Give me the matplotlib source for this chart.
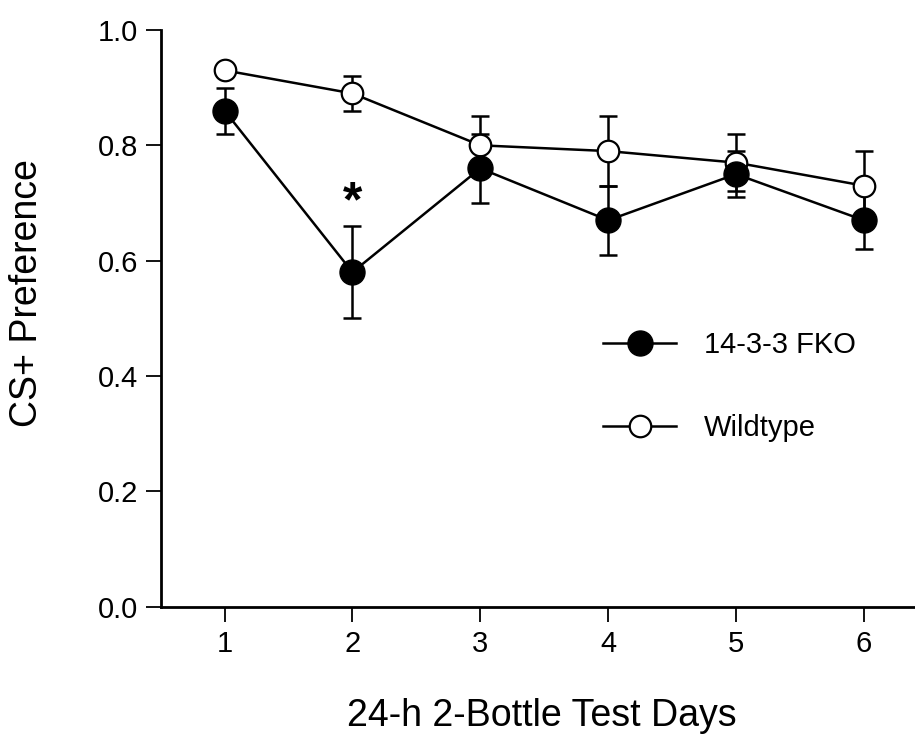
import matplotlib
matplotlib.use("Agg")
import matplotlib.pyplot as plt
from matplotlib.lines import Line2D

plt.rcParams['font.family'] = ['Liberation Sans', 'DejaVu Sans']

days = [1, 2, 3, 4, 5, 6]
fko_mean = [0.86, 0.58, 0.76, 0.67, 0.75, 0.67]
fko_err = [0.04, 0.08, 0.06, 0.06, 0.04, 0.05]
wt_mean = [0.93, 0.89, 0.80, 0.79, 0.77, 0.73]
wt_err = [0.01, 0.03, 0.05, 0.06, 0.05, 0.06]
yticks = [0.0, 0.2, 0.4, 0.6, 0.8, 1.0]
ytick_labels = ["0.0", "0.2", "0.4", "0.6", "0.8", "1.0"]
star_day, star_y = 2, 0.70

fig = plt.figure(figsize=(9.15, 7.4), dpi=100)
ax = fig.add_axes([0.1756, 0.1801, 0.8244, 0.7794])

lw = 1.8
ax.errorbar(days, wt_mean, yerr=wt_err, fmt='-', color='black', lw=lw,
            elinewidth=lw, capsize=6.5, capthick=lw, zorder=2)
ax.errorbar(days, fko_mean, yerr=fko_err, fmt='-', color='black', lw=lw,
            elinewidth=lw, capsize=6.5, capthick=lw, zorder=2)
ax.plot(days, wt_mean, 'o', ms=15.5, mfc='white', mec='black', mew=1.6, zorder=4)
ax.plot(days, fko_mean, 'o', ms=18, mfc='black', mec='black', zorder=5)

ax.text(star_day, star_y, '*', ha='center', va='center', fontsize=36, fontweight='bold')

ax.set_xlim(0.5, 6.4)
ax.set_ylim(0, 1.0)
ax.set_xticks(days)
ax.set_xticklabels([str(d) for d in days])
ax.set_yticks(yticks)
ax.set_yticklabels(ytick_labels)
ax.tick_params(axis='both', direction='out', length=11, width=1.3, labelsize=21)
ax.tick_params(axis='y', pad=5)
ax.tick_params(axis='x', pad=6)
for s in ['top', 'right']:
    ax.spines[s].set_visible(False)
for s in ['left', 'bottom']:
    ax.spines[s].set_linewidth(2)
ax.spines['left'].set_bounds(0, 1.0)

ax.set_xlabel('24-h 2-Bottle Test Days', fontsize=27)
ax.set_ylabel('CS+ Preference', fontsize=27)
ax.xaxis.set_label_coords(0.505, -0.158)
ax.yaxis.set_label_coords(-0.153, 0.544)

h1 = Line2D([], [], color='black', lw=lw, marker='o', ms=18, mfc='black', mec='black')
h2 = Line2D([], [], color='black', lw=lw, marker='o', ms=15.5, mfc='white', mec='black', mew=1.6)
ax.legend([h1, h2], ['14-3-3 FKO', 'Wildtype'], frameon=False, fontsize=21,
          handlelength=2.5, handletextpad=0.95, labelspacing=1.9,
          loc='upper left', bbox_to_anchor=(0.552, 0.524))

fig.savefig('out.png', dpi=100)
